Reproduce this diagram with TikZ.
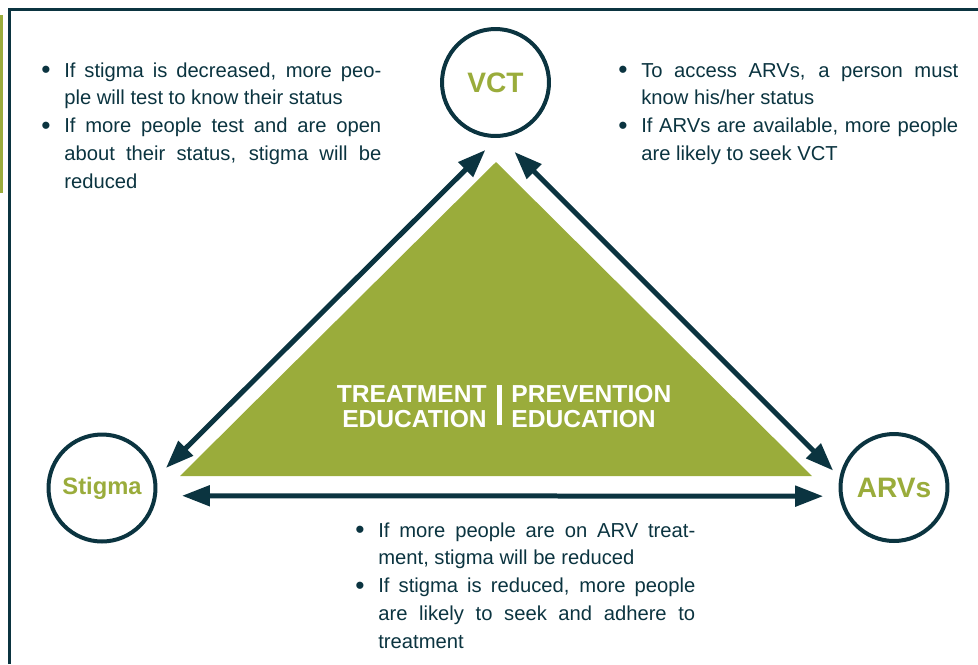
\documentclass[tikz,border=0pt]{standalone}
\usepackage{fontspec}
\setmainfont{Liberation Sans}
\usepackage{tikz}
\usetikzlibrary{arrows.meta}
\definecolor{ink}{HTML}{0B3440}
\definecolor{leaf}{HTML}{9AAC3B}
\hbadness=10000
\newcommand{\pointitem}[1]{\hangindent=0.46cm\hangafter=1\noindent
  \makebox[0.46cm][l]{\raisebox{-0.08em}{\fontsize{15}{0}\selectfont\textbullet}}#1\par}
\tikzset{
  hub/.style={circle, draw=ink, fill=white, line width=0.08cm, minimum size=2.14cm, inner sep=0pt,
              text=leaf, font=\bfseries\fontsize{16}{16}\selectfont},
  link/.style={<->, draw=ink, line width=0.1cm, >={Triangle[length=0.56cm, width=0.4cm]}},
  bullets/.style={text width=6.8cm, align=justify, inner sep=0pt, text=ink,
                  font=\fontsize{11.5}{15.9}\selectfont},
  banner/.style={inner sep=0pt, text=white, font=\bfseries\fontsize{14}{14.2}\selectfont},
}

\begin{document}
\begin{tikzpicture}[x=0.02cm, y=-0.02cm]
  \useasboundingbox (0,0) rectangle (978,664);
  \fill[leaf] (0,15) rectangle (3.3,193);
  \draw[ink, line width=0.06cm] (9.7,664) -- (9.7,9.7) -- (978,9.7);

  \coordinate (apex) at (496,162);
  \coordinate (left) at (180,476);
  \coordinate (right) at (812,476);
  \fill[leaf] (apex) -- (left) -- (right) -- cycle;

  \node[hub] (vct) at (495.5,82.5) {VCT};
  \node[hub, font=\bfseries\fontsize{13.5}{13.5}\selectfont] (stigma) at (102,488) {Stigma};
  \node[hub] (arvs) at (894,487.5) {ARVs};

  \draw[link, shorten <=0.268cm, shorten >=0.34cm] (stigma.11) -- (vct.-88.4);
  \draw[link, shorten <=0.4cm, shorten >=0.18cm] (vct.-85.5) -- (arvs.169.5);
  \draw[link, shorten <=0.5cm, shorten >=0.32cm] (stigma.-8.29) -- (arvs.-171.2);

  \node[banner, align=right, anchor=north east] (treat) at (487,385) {TREATMENT\\EDUCATION};
  \node[banner, align=left, anchor=north west] (prev) at (511,385) {PREVENTION\\EDUCATION};
  \fill[white] (497,385) rectangle (502,425);

  \node[bullets, anchor=base west] (stigmavct) at (41,77) {%
    \pointitem{If stigma is decreased, more peo-\linebreak ple will test to know their status}
    \pointitem{If more people test and are open\linebreak about their status, stigma will be\linebreak reduced}};
  \node[bullets, anchor=base west] (vctarv) at (618,77) {%
    \pointitem{To access ARVs, a person must\linebreak know his/her status}
    \pointitem{If ARVs are available, more people\linebreak are likely to seek VCT}};
  \node[bullets, anchor=base west] (stigmaarv) at (355,537) {%
    \pointitem{If more people are on ARV treat-\linebreak ment, stigma will be reduced}
    \pointitem{If stigma is reduced, more people\linebreak are likely to seek and adhere to\linebreak treatment}};
\end{tikzpicture}
\end{document}
